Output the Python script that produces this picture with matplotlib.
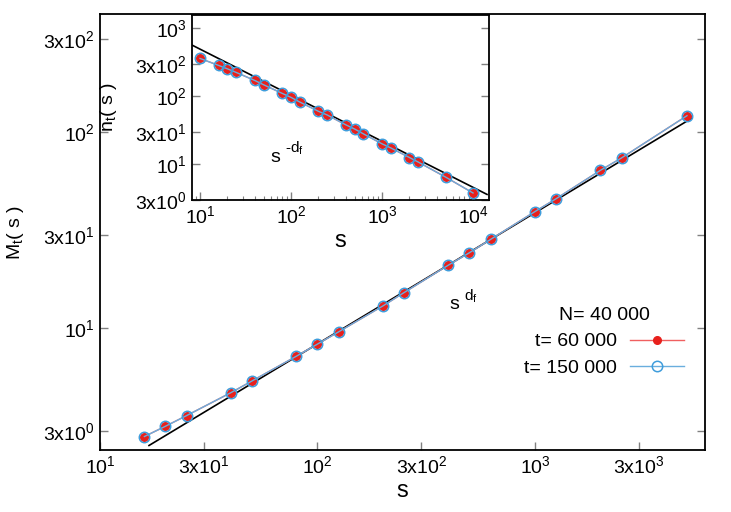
import numpy as np
import matplotlib
matplotlib.use("Agg")
import matplotlib.pyplot as plt
from matplotlib.ticker import FixedLocator, NullLocator, LogLocator

plt.rcParams['font.family'] = ['Liberation Sans', 'DejaVu Sans']
plt.rcParams['mathtext.default'] = 'regular'

# Dados do gráfico principal (M_t(s))
s_main = [16, 20, 25, 40, 50, 80, 100, 125, 200, 250, 400, 500, 625, 1000, 1250, 2000, 2500, 5000]
m_60k = [2.80, 3.16, 3.58, 4.69, 5.38, 7.2, 8.3, 9.58, 13.0, 15.2, 21.0, 24.3, 28.4, 39.4, 45.8, 64.0, 74.0, 121.6]
m_150k = [2.80, 3.16, 3.58, 4.69, 5.38, 7.2, 8.3, 9.58, 13.0, 15.2, 21.0, 24.3, 28.4, 39.4, 45.8, 64.0, 74.0, 121.6]
fit_main_s = [16.8, 5275]
fit_main_m = [2.52, 118.3]

# Dados do inset (n_t(s))
s_ins = [10, 16, 20, 25, 40, 50, 80, 100, 125, 200, 250, 400, 500, 625, 1000, 1250, 2000, 2500, 5000, 10000]
n_60k = [358, 283, 252, 223, 170, 147, 110, 96, 82, 60, 53, 38, 33, 28, 20, 17.4, 12.6, 10.8, 6.5, 3.8]
n_150k = [358, 283, 252, 223, 170, 147, 110, 96, 82, 60, 53, 38, 33, 28, 20, 17.4, 12.6, 10.8, 6.5, 3.8]
fit_ins_s = [8.17, 14260]
fit_ins_n = [562, 3.62]

# Ticks
main_xticks = [10, 30, 100, 300, 1000, 3000]
main_xlabels = ['10$^1$', '3x10$^1$', '10$^2$', '3x10$^2$', '10$^3$', '3x10$^3$']
main_yticks = [3, 10, 30, 100, 300]
main_ylabels = ['3x10$^0$', '10$^1$', '3x10$^1$', '10$^2$', '3x10$^2$']
ins_xticks = [10, 100, 1000, 10000]
ins_xlabels = ['10$^1$', '10$^2$', '10$^3$', '10$^4$']
ins_yticks = [3, 10, 30, 100, 300, 1000]
ins_ylabels = ['3x10$^0$', '10$^1$', '3x10$^1$', '10$^2$', '3x10$^2$', '10$^3$']

red = '#e8201c'
blue = '#3f9ddc'
blue_line = '#6aaede'
red_line = '#f06060'
fs = 14

fig = plt.figure(figsize=(7.31, 5.12), dpi=100)
ax = fig.add_axes([0.1368, 0.1211, 0.8276, 0.8516])

# Gráfico principal
ax.plot(fit_main_s, fit_main_m, color='black', lw=1.2, zorder=2)
ax.plot(s_main, m_60k, color=red_line, lw=1, marker='o', ms=5.5, mfc=red, mec=red,
        label='t= 60 000', zorder=3)
ax.plot(s_main, m_150k, color=blue_line, lw=1, marker='o', ms=7.5, mfc='none', mec=blue,
        mew=1.1, label='t= 150 000', zorder=4)
ax.set_xscale('log')
ax.set_yscale('log')
ax.set_xlim(10, 6050)
ax.set_ylim(2.39, 402)
ax.xaxis.set_major_locator(FixedLocator(main_xticks))
ax.set_xticklabels(main_xlabels)
ax.yaxis.set_major_locator(FixedLocator(main_yticks))
ax.set_yticklabels(main_ylabels)
ax.xaxis.set_minor_locator(NullLocator())
ax.yaxis.set_minor_locator(NullLocator())
ax.tick_params(direction='in', length=6, width=1, color='gray', labelsize=fs, pad=4,
               right=True, top=False)
for sp in ax.spines.values():
    sp.set_linewidth(1.3)
ax.set_xlabel('s', fontsize=17, labelpad=2)
ax.set_ylabel('M$_t$( s )', fontsize=fs)
ax.yaxis.set_label_coords(-0.122, 0.5)

# s^{d_f}
ax.text(403, 12.5, 's', fontsize=fs, va='baseline')
ax.annotate('d$_f$', xy=(403, 12.5), xytext=(11, 6), textcoords='offset points',
            fontsize=11, va='baseline')

leg = ax.legend(title='N= 40 000', title_fontsize=fs, fontsize=fs, frameon=False,
                markerfirst=False, loc='upper right', bbox_to_anchor=(0.982, 0.35),
                handlelength=2.8, handletextpad=0.65, labelspacing=0.45, borderpad=0)

# Inset
ins = fig.add_axes([0.2627, 0.6094, 0.4063, 0.3613])
ins.plot(fit_ins_s, fit_ins_n, color='black', lw=1.2, zorder=2)
ins.plot(s_ins, n_60k, color=red_line, lw=1, marker='o', ms=5.5, mfc=red, mec=red, zorder=3)
ins.plot(s_ins, n_150k, color=blue_line, lw=1, marker='o', ms=7.5, mfc='none', mec=blue,
         mew=1.1, zorder=4)
ins.set_xscale('log')
ins.set_yscale('log')
ins.set_xlim(8.17, 15000)
ins.set_ylim(3, 1553)
ins.xaxis.set_major_locator(FixedLocator(ins_xticks))
ins.set_xticklabels(ins_xlabels)
ins.yaxis.set_major_locator(FixedLocator(ins_yticks))
ins.set_yticklabels(ins_ylabels)
ins.xaxis.set_minor_locator(LogLocator(base=10, subs=np.arange(2, 10)))
ins.yaxis.set_minor_locator(NullLocator())
ins.tick_params(which='major', direction='in', length=6, width=1, color='gray',
                labelsize=fs, pad=4, right=True, top=False)
ins.tick_params(which='minor', direction='in', length=3, width=0.8, color='gray',
                right=False, top=False)
for sp in ins.spines.values():
    sp.set_linewidth(1.3)
ins.set_xlabel('s', fontsize=17, labelpad=2)
ins.set_ylabel('n$_t$( s )', fontsize=fs)
ins.yaxis.set_label_coords(-0.245, 0.5)

# s^{-d_f}
ins.text(58.8, 10.7, 's', fontsize=fs, va='baseline')
ins.annotate('-d$_f$', xy=(58.8, 10.7), xytext=(11, 7), textcoords='offset points',
             fontsize=11, va='baseline')

fig.savefig('out.png', dpi=100)
